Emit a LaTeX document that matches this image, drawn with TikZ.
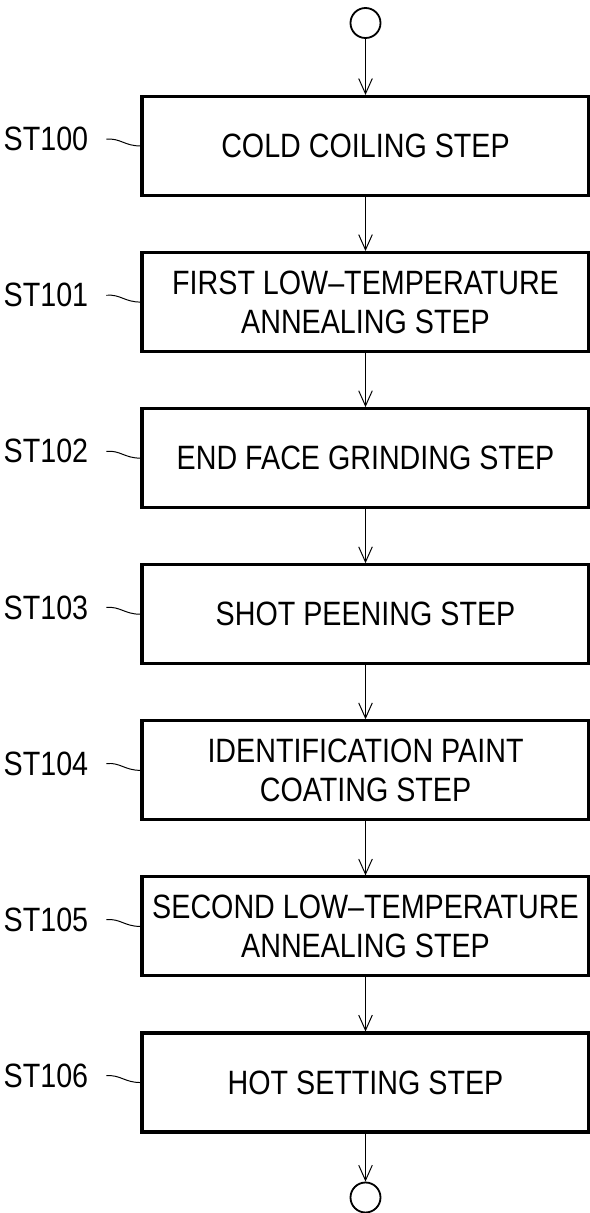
\documentclass[tikz,border=0pt]{standalone}
\usepackage{fontspec}
\setmainfont{Liberation Sans}[FakeStretch=0.85]
\usetikzlibrary{arrows.meta,positioning}
\tikzset{
  stepbox/.style={draw=black, line width=2.2pt, minimum width=11.175cm,
                  minimum height=2.475cm, inner sep=0pt, align=center,
                  font=\fontsize{24}{27.5}\selectfont},
  term/.style={draw=black, circle, line width=1.3pt, minimum size=0.75cm, inner sep=0pt},
  flow/.style={-{Straight Barb[length=0.38cm,width=0.34cm]}, line width=0.7pt, draw=black},
  stlabel/.style={inner sep=0pt, font=\fontsize{24}{27.5}\selectfont},
  leader/.style={line width=0.7pt, draw=black}
}
\begin{document}
\begin{tikzpicture}[x=1cm,y=1cm,node distance=1.35cm]
  \useasboundingbox (0,0) rectangle (14.75,-30.325);
  % start / end terminals
  \node[term] (start) at (9.1375,-0.575) {};
  % process steps
  \node[stepbox, below=1.4cm of start] (s0) {COLD COILING STEP};
  \node[stepbox, below=of s0] (s1) {FIRST LOW--TEMPERATURE\\ANNEALING STEP};
  \node[stepbox, below=of s1] (s2) {END FACE GRINDING STEP};
  \node[stepbox, below=of s2] (s3) {SHOT PEENING STEP};
  \node[stepbox, below=of s3] (s4) {IDENTIFICATION PAINT\\COATING STEP};
  \node[stepbox, below=of s4] (s5) {SECOND LOW--TEMPERATURE\\ANNEALING STEP};
  \node[stepbox, below=of s5] (s6) {HOT SETTING STEP};
  \node[term, below=1.2cm of s6] (stop) {};
  % step numbers with wavy leaders
  \foreach \i in {0,...,6} {
    \pgfmathtruncatemacro\num{100+\i}
    \node[stlabel, left=1.3cm of s\i.west, yshift=0.17cm] (l\i) {ST\num};
    \draw[leader] ([xshift=0.45cm]l\i.east) .. controls +(0.35,0.03) and +(-0.4,0) .. (s\i.west);
  }
  % flow arrows
  \draw[flow] (start) -- (s0);
  \foreach \a/\b in {s0/s1,s1/s2,s2/s3,s3/s4,s4/s5,s5/s6} {
    \draw[flow] (\a) -- (\b);
  }
  \draw[flow] (s6) -- (stop);
\end{tikzpicture}
\end{document}
